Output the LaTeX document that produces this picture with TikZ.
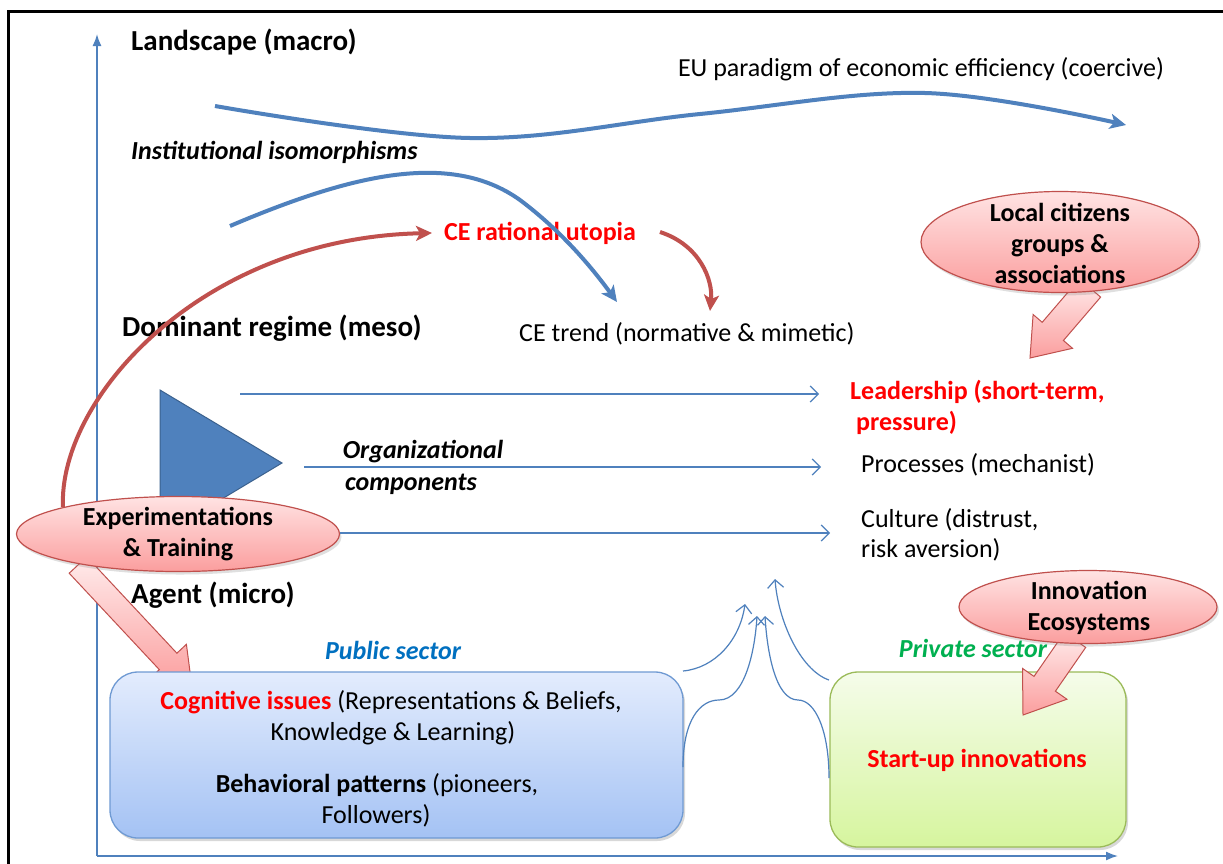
\documentclass[tikz,border=0pt]{standalone}
\usepackage{fontspec}
\setmainfont{Carlito}
\usetikzlibrary{arrows.meta,shapes.geometric,shadows,calc}
\definecolor{accblue}{HTML}{4F81BD}
\definecolor{accred}{HTML}{C0504D}
\definecolor{txtred}{HTML}{FF0000}
\definecolor{pubblue}{HTML}{0070C0}
\definecolor{privgreen}{HTML}{00B050}
\definecolor{pinktop}{HTML}{FFE3E3}
\definecolor{pinkbot}{HTML}{FB9E9E}
\definecolor{pubtop}{HTML}{E3ECFD}
\definecolor{pubbot}{HTML}{A4C2F4}
\definecolor{pubedge}{HTML}{6F9AD3}
\definecolor{privtop}{HTML}{F5FCEA}
\definecolor{privbot}{HTML}{D6F59E}
\definecolor{privedge}{HTML}{9BBB59}
\tikzset{
  thick curve/.style={accblue,line width=4pt,-{Stealth[length=16pt,width=15pt,inset=4pt]}},
  red curve/.style={accred,line width=4pt,-{Stealth[length=16pt,width=15pt,inset=4pt]}},
  thin arrow/.style={accblue,line width=1.2pt,-{Straight Barb[length=8pt,width=16pt]}},
  axis/.style={accblue,line width=1.6pt,-{Latex[length=12pt,width=9pt]}},
  heading/.style={font=\fontsize{29}{33}\selectfont\bfseries,anchor=west,inner sep=0pt},
  body/.style={font=\fontsize{26}{31}\selectfont,inner sep=0pt},
  boldbody/.style={body,font=\fontsize{26}{31}\selectfont\bfseries},
  bolditbody/.style={body,font=\fontsize{26}{31}\selectfont\bfseries\itshape},
  bubble/.style={ellipse,draw=accred,line width=1.2pt,top color=pinktop,bottom color=pinkbot,inner sep=0pt,
    drop shadow={opacity=0.25,shadow xshift=2pt,shadow yshift=-3pt}},
  bubbletext/.style={font=\fontsize{26}{31}\selectfont\bfseries,align=center,inner sep=0pt},
  blockarrow/.style={draw=accred,line width=1pt,top color=pinktop!70!white,bottom color=pinkbot},
  sectorbox/.style={rounded corners=28pt,line width=1.3pt,
    drop shadow={opacity=0.3,shadow xshift=2pt,shadow yshift=-3pt}},
}
\begin{document}
\begin{tikzpicture}[x=1pt,y=-1pt]
\useasboundingbox (0,0) rectangle (1223,863);
\clip (0,0) rectangle (1223,863);
\fill[white] (0,0) rectangle (1223,863);
% frame
\draw[black,line width=3pt] (8,880) -- (8,11) -- (1240,11);
% axes
\coordinate (origin) at (97,856);
\coordinate (ytop) at (97,34);
\coordinate (xend) at (1118,856);
\draw[axis] (origin) -- (ytop);
\draw[axis] (origin) -- (xend);

% headings
\node[heading] (land) at (131,42) {Landscape (macro)};
\node[heading,font=\fontsize{26}{31}\selectfont\bfseries\itshape] (iso) at (131,152) {Institutional isomorphisms};
\node[heading] (dom) at (122,328) {Dominant regime (meso)};
\node[heading] (agent) at (131,595) {Agent (micro)};

\node[body] (eu) at (921,69) {EU paradigm of economic efficiency (coercive)};
\node[boldbody,text=txtred] (utopia) at (540,233) {CE rational utopia};
\node[body,anchor=west] (trend) at (519,334) {CE trend (normative \& mimetic)};

% thick blue curves
\coordinate (eustart) at (215,106);
\coordinate (euend) at (1126,125);
\draw[thick curve] plot[smooth,tension=0.6] coordinates {(eustart) (470,138) (700,114) (925,93) (euend)};
\coordinate (isostart) at (230,226);
\coordinate (isoend) at (617,302);
\draw[thick curve] (isostart) .. controls (350,175) and (450,150) .. (520,200) .. controls (560,230) and (590,265) .. (isoend);

% red curves
\coordinate (redstart) at (63,507);
\coordinate (redtip) at (432,233);
\draw[red curve] (redstart) .. controls (58,400) and (200,238) .. (redtip);
\coordinate (red2start) at (660,232);
\coordinate (red2end) at (710,311);
\draw[red curve] (red2start) .. controls (700,245) and (713,280) .. (red2end);

% triangle
\draw[fill=accblue,draw=accblue!75!black,line width=1pt] (160,390) -- (282,463) -- (160,536) -- cycle;

% block arrow local citizens
\draw[blockarrow] (1079.4,278.9) -- (1042.2,322.3) -- (1033.1,314.5) -- (1030,358) -- (1072.5,348.3) -- (1063.4,340.5) -- (1100.6,297.1) -- cycle;
\node[bubble,minimum width=278pt,minimum height=101pt] (citizens) at (1060,242) {};
\node[bubbletext] (citizenstxt) at (1060,243) {Local citizens\\groups \&\\associations};

% organizational components
\node[bolditbody] (org1) at (423,452) {Organizational};
\node[bolditbody] (org2) at (411,484) {components};

% right column texts
\node[boldbody,anchor=west,text=txtred] (lead1) at (850,392) {Leadership (short-term,};
\node[boldbody,anchor=west,text=txtred] (lead2) at (856,423) {pressure)};
\node[body,anchor=west] (proc) at (861,465) {Processes (mechanist)};
\node[body,anchor=west] (cult1) at (861,520) {Culture (distrust,};
\node[body,anchor=west] (cult2) at (861,550) {risk aversion)};

% horizontal thin arrows
\coordinate (h1s) at (240,394); \coordinate (h1e) at (819,394);
\coordinate (h2s) at (304,467); \coordinate (h2e) at (821,467);
\coordinate (h3e) at (830,533);
\draw[thin arrow] (h1s) -- (h1e);
\draw[thin arrow] (h2s) -- (h2e);

% block arrow experimentations
\draw[blockarrow] (69.2,573.2) -- (159.3,669.6) -- (149.8,678.5) -- (192,687) -- (186.4,644.3) -- (176.9,653.2) -- (86.8,556.8) -- cycle;
\node[bubble,minimum width=323pt,minimum height=75pt] (exp) at (178,534) {};
\node[bubbletext] (exptxt) at (178,534) {Experimentations\\\& Training};
\draw[thin arrow] (exp.east |- h3e) -- (h3e);

% sector labels
\node[bolditbody,text=pubblue] (publab) at (393,650) {Public sector};
\node[bolditbody,text=privgreen] (privlab) at (973,648) {Private sector};

% public box
\node[sectorbox,draw=pubedge,top color=pubtop,bottom color=pubbot,
  minimum width=573pt,minimum height=166pt] (pub) at (396.5,755) {};
\node[body] (cog1) at (391,702) {\textbf{\color{txtred}Cognitive issues} (Representations \& Beliefs,};
\node[body] (cog2) at (393,733) {Knowledge \& Learning)};
\node[body] (beh1) at (377,785) {\textbf{Behavioral patterns} (pioneers,};
\node[body] (beh2) at (376,816) {Followers)};

% private box
\node[sectorbox,draw=privedge,top color=privtop,bottom color=privbot,
  minimum width=296pt,minimum height=175pt] (priv) at (978,759.5) {};
\node[boldbody,text=txtred] (startup) at (977,760) {Start-up innovations};

% block arrow innovation
\draw[blockarrow] (1064.3,632.6) -- (1034.0,676.4) -- (1022.5,668.4) -- (1023,715) -- (1066.9,699.2) -- (1055.4,691.2) -- (1085.7,647.4) -- cycle;
\node[bubble,minimum width=258pt,minimum height=73pt] (eco) at (1088,607) {};
\node[bubbletext] (ecotxt) at (1089,607.5) {Innovation\\Ecosystems};

% converging thin arrows
\coordinate (c1s) at (683,671); \coordinate (c1e) at (745,604);
\coordinate (c2s) at (683,767); \coordinate (c2e) at (757,616);
\coordinate (c3s) at (829,778); \coordinate (c3e) at (765,616);
\coordinate (c4s) at (829,680); \coordinate (c4e) at (775,579);
\draw[thin arrow] (c1s) .. controls (715,668) and (740,640) .. (c1e);
\draw[thin arrow] (c2s) .. controls (683,720) and (700,700) .. (719,700) .. controls (745,700) and (755,650) .. (c2e);
\draw[thin arrow] (c3s) .. controls (829,730) and (815,700) .. (798,700) .. controls (775,700) and (767,650) .. (c3e);
\draw[thin arrow] (c4s) .. controls (800,670) and (778,620) .. (c4e);
\end{tikzpicture}
\end{document}
